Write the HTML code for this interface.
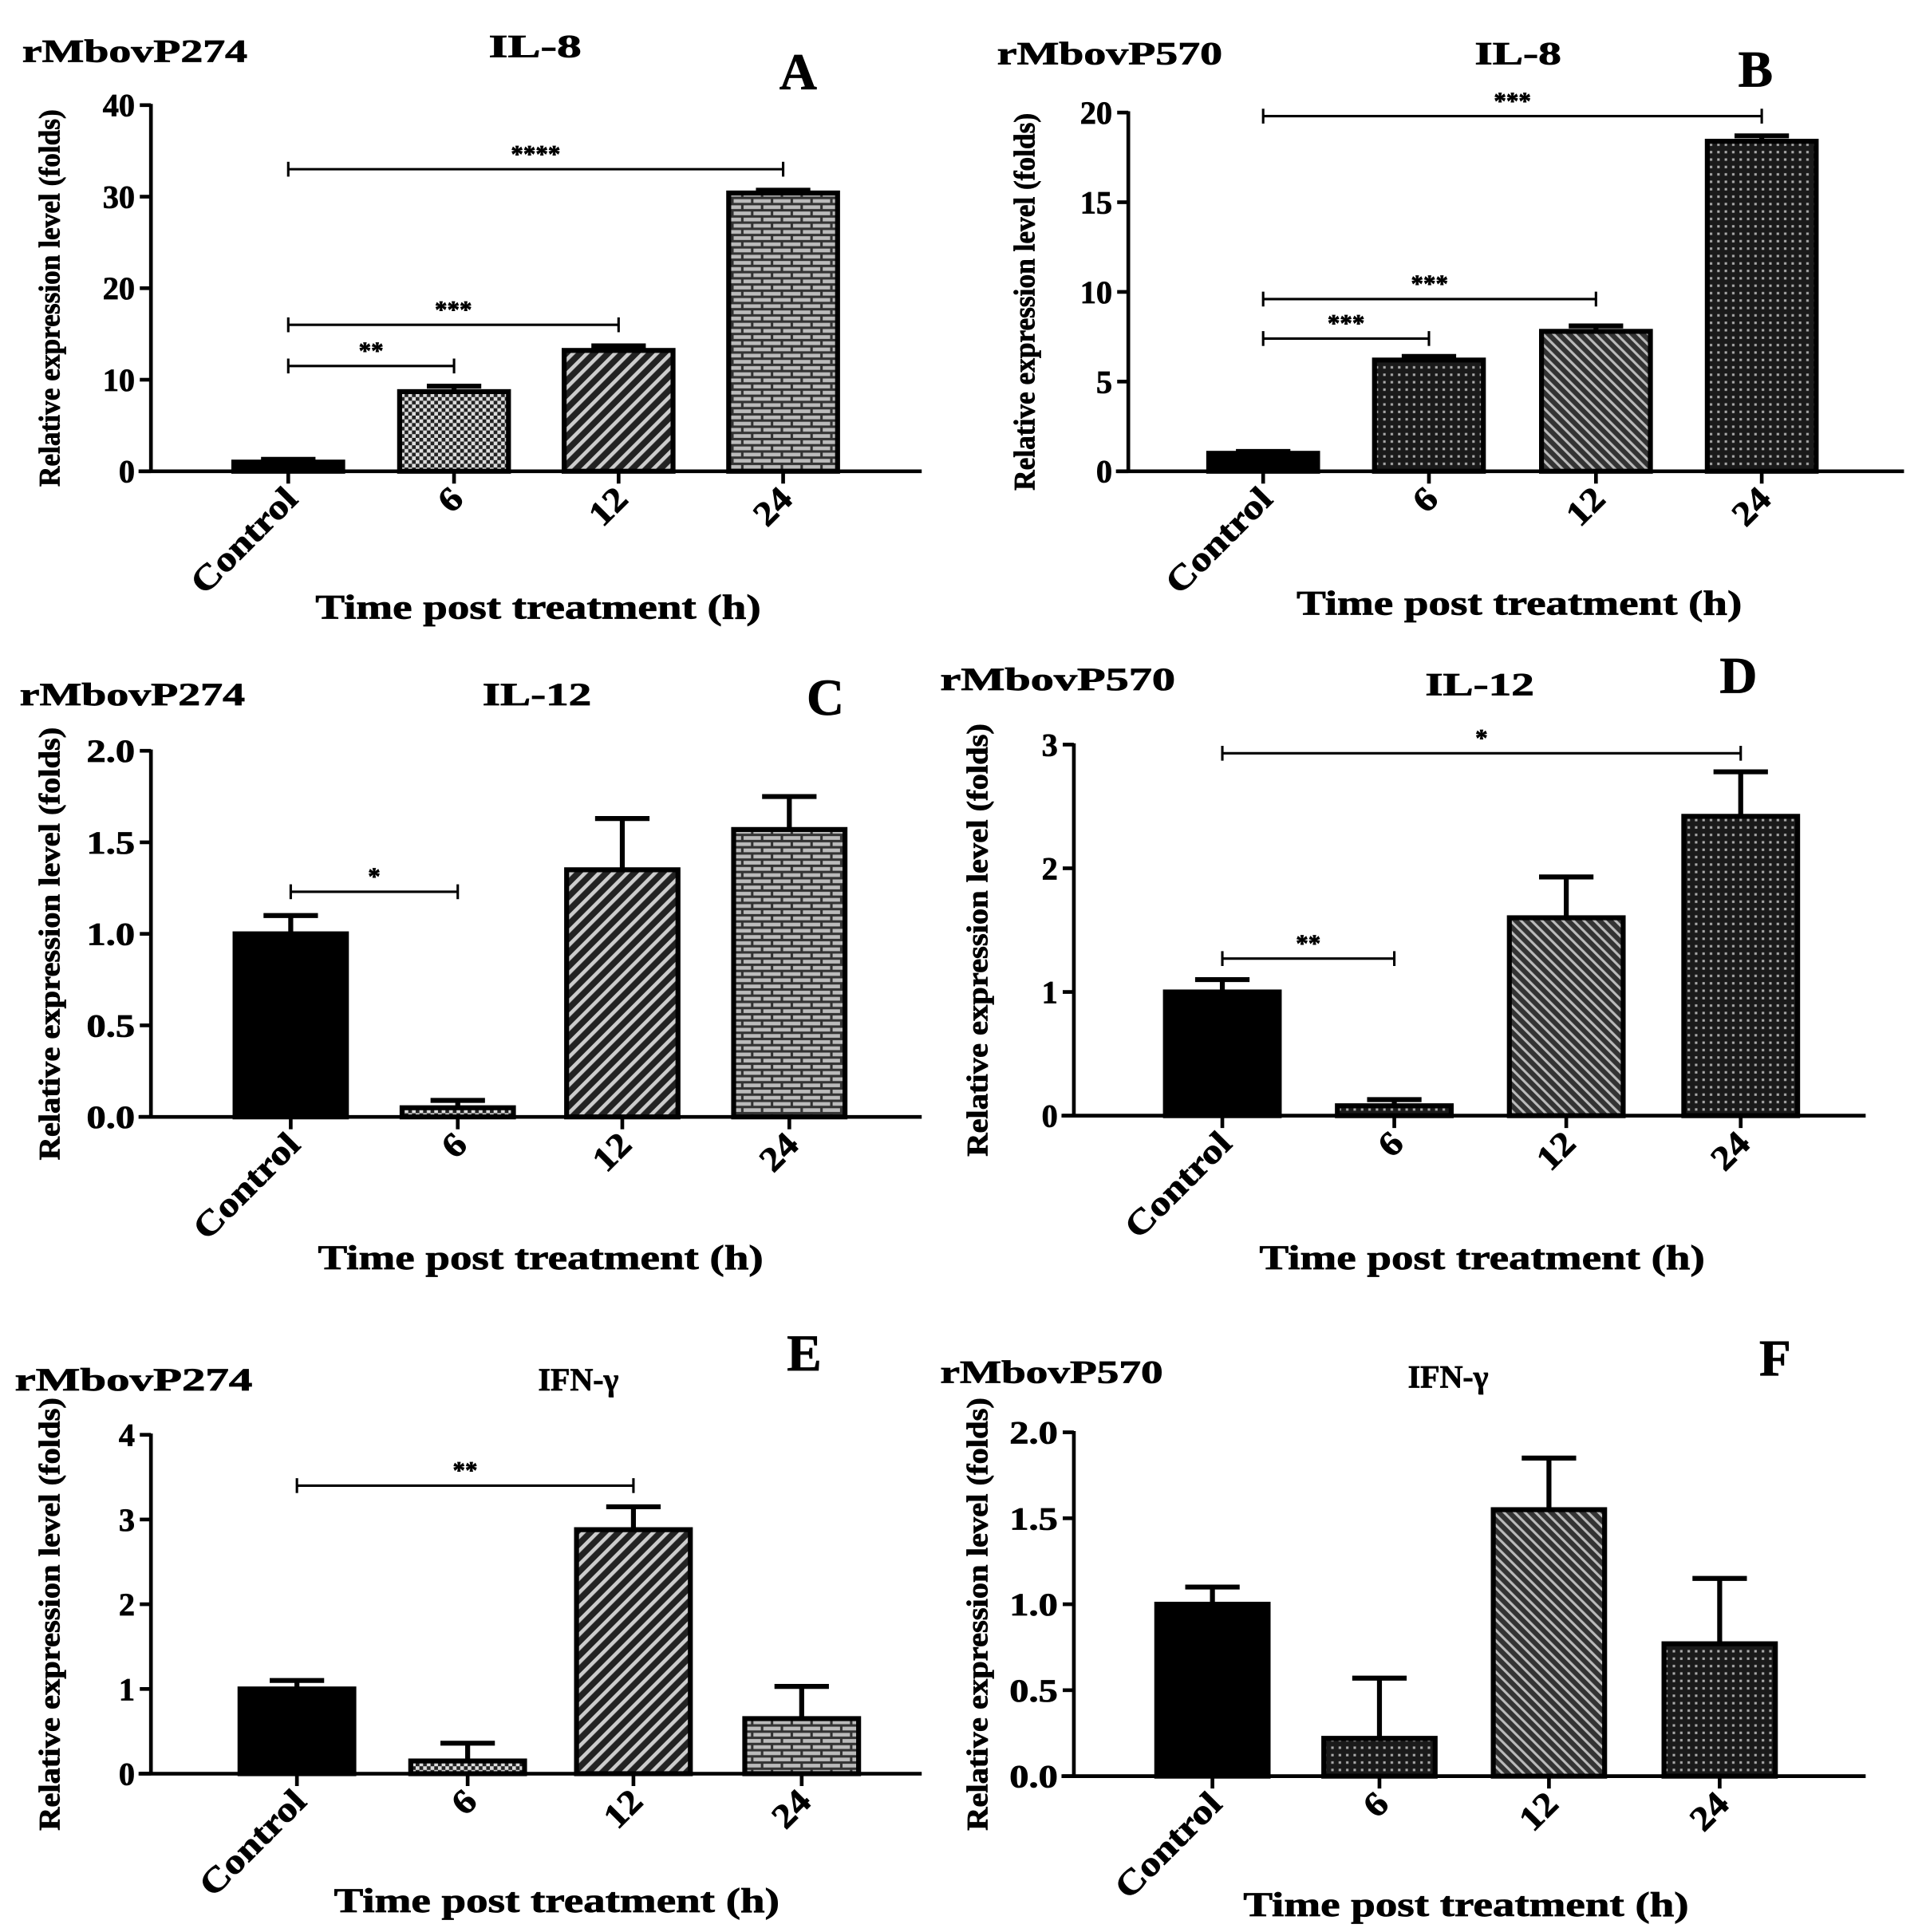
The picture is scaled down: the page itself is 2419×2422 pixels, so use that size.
<!DOCTYPE html>
<html><head><meta charset="utf-8"><style>
html,body{margin:0;padding:0;background:#fff;}
svg{display:block;}
text{font-family:"Liberation Serif",serif;font-weight:bold;fill:#000;stroke:#000;stroke-width:0.5;}
</style></head><body>
<svg id="fig" width="2419" height="2422" viewBox="0 0 1560 1562" preserveAspectRatio="none" xmlns="http://www.w3.org/2000/svg">
<defs>
<pattern id="pChecker" width="6" height="6" patternUnits="userSpaceOnUse"><rect width="6" height="6" fill="#222"/><rect width="3" height="3" fill="#ddd"/><rect x="3" y="3" width="3" height="3" fill="#ddd"/></pattern>
<pattern id="pDiag" width="8" height="8" patternUnits="userSpaceOnUse" patternTransform="rotate(45)"><rect width="8" height="8" fill="#222"/><rect width="3" height="8" fill="#ccc"/></pattern>
<pattern id="pDiag2" width="6" height="6" patternUnits="userSpaceOnUse" patternTransform="rotate(-45)"><rect width="6" height="6" fill="#333"/><rect width="2" height="6" fill="#bbb"/></pattern>
<pattern id="pBrick" width="16" height="10" patternUnits="userSpaceOnUse"><rect width="16" height="10" fill="#333"/><rect x="1" y="1" width="14" height="3" fill="#bbb"/><rect x="0" y="6" width="7" height="3" fill="#bbb"/><rect x="9" y="6" width="7" height="3" fill="#bbb"/></pattern>
<pattern id="pDots" width="6" height="6" patternUnits="userSpaceOnUse"><rect width="6" height="6" fill="#1a1a1a"/><rect x="2" y="2" width="2" height="2" fill="#aaa"/></pattern>
</defs>
<g id="root"></g>
</svg>
<script>
// ---- data ----
const categories = ["Control","6","12","24"];
const valuesA = [1.0, 8.7, 13.2, 30.4];
const errorsA = [1.3, 9.3, 13.7, 30.7];
const valuesB = [1.0, 6.2, 7.8, 18.4];
const errorsB = [1.1, 6.4, 8.1, 18.7];
const valuesC = [1.0, 0.05, 1.35, 1.57];
const errorsC = [1.1, 0.09, 1.63, 1.75];
const valuesD = [1.0, 0.08, 1.6, 2.42];
const errorsD = [1.1, 0.13, 1.93, 2.78];
const valuesE = [1.0, 0.15, 2.88, 0.65];
const errorsE = [1.1, 0.36, 3.15, 1.03];
const valuesF = [1.0, 0.22, 1.55, 0.77];
const errorsF = [1.1, 0.57, 1.85, 1.15];
const ticksA = [0,10,20,30,40];
const ticksB = [0,5,10,15,20];
const ticksC = ["0.0","0.5","1.0","1.5","2.0"];
const ticksD = [0,1,2,3];
const ticksE = [0,1,2,3,4];
const ticksF = ["0.0","0.5","1.0","1.5","2.0"];
// significance: [fromIndex, toIndex, level, label]
const sigA = [[0,1,11.5,"**"],[0,2,16,"***"],[0,3,33,"****"]];
const sigB = [[0,1,7.4,"***"],[0,2,9.6,"***"],[0,3,19.8,"***"]];
const sigC = [[0,1,1.23,"*"]];
const sigD = [[0,1,1.27,"**"],[0,3,2.93,"*"]];
const sigE = [[0,2,3.4,"**"]];
const sigF = [];

// ---- layout ----
const panels = [
 {id:"a",letter:"A",prot:"rMbovP274",cyt:"IL-8",vals:valuesA,errs:errorsA,ticks:ticksA,sig:sigA,ax:122,y0:381,yTop:85,max:40,right:745,xs:[233,367,500,633],bw:88,fills:["#000","url(#pChecker)","url(#pDiag)","url(#pBrick)"],protXY:[18,50],protW:182,cytXY:[395,46],cytW:75,letXY:[630,72],ytX:40,ytW:305,titleX:435,titleY:500},
 {id:"b",letter:"B",prot:"rMbovP570",cyt:"IL-8",vals:valuesB,errs:errorsB,ticks:ticksB,sig:sigB,ax:912,y0:381,yTop:91,max:20,right:1539,xs:[1021,1155,1290,1424],bw:88,fills:["#000","url(#pDots)","url(#pDiag2)","url(#pDots)"],protXY:[806,52],protW:182,cytXY:[1192,52],cytW:70,letXY:[1405,70],ytX:828,ytW:305,titleX:1228,titleY:497},
 {id:"c",letter:"C",prot:"rMbovP274",cyt:"IL-12",vals:valuesC,errs:errorsC,ticks:ticksC,sig:sigC,ax:122,y0:903,yTop:607,max:2,right:745,xs:[235,370,503,638],bw:90,fills:["#000","url(#pChecker)","url(#pDiag)","url(#pBrick)"],protXY:[16,570],protW:182,cytXY:[390,570],cytW:88,letXY:[652,578],ytX:40,ytW:350,titleX:437,titleY:1026},
 {id:"d",letter:"D",prot:"rMbovP570",cyt:"IL-12",vals:valuesD,errs:errorsD,ticks:ticksD,sig:sigD,ax:868,y0:902,yTop:602,max:3,right:1508,xs:[988,1127,1266,1407],bw:92,fills:["#000","url(#pDots)","url(#pDiag2)","url(#pDots)"],protXY:[760,558],protW:190,cytXY:[1152,562],cytW:88,letXY:[1390,560],ytX:790,ytW:350,titleX:1198,titleY:1026},
 {id:"e",letter:"E",prot:"rMbovP274",cyt:"IFN-\u03b3",vals:valuesE,errs:errorsE,ticks:ticksE,sig:sigE,ax:122,y0:1434,yTop:1160,max:4,right:745,xs:[240,378,512,648],bw:92,fills:["#000","url(#pChecker)","url(#pDiag)","url(#pBrick)"],protXY:[12,1124],protW:192,cytXY:[435,1124],cytW:65,letXY:[636,1108],ytX:40,ytW:350,titleX:450,titleY:1546},
 {id:"f",letter:"F",prot:"rMbovP570",cyt:"IFN-\u03b3",vals:valuesF,errs:errorsF,ticks:ticksF,sig:sigF,ax:868,y0:1436,yTop:1158,max:2,right:1508,xs:[980,1115,1252,1390],bw:90,fills:["#000","url(#pDots)","url(#pDiag2)","url(#pDots)"],protXY:[760,1118],protW:180,cytXY:[1138,1122],cytW:65,letXY:[1422,1112],ytX:790,ytW:350,titleX:1185,titleY:1549}
];
const NS="http://www.w3.org/2000/svg";
const root=document.getElementById("root");
function mk(tag,attrs,parent,txt){const e=document.createElementNS(NS,tag);for(const k in attrs)e.setAttribute(k,attrs[k]);if(txt!==undefined)e.textContent=txt;(parent||root).appendChild(e);return e;}

panels.forEach(p=>{
  const g=mk("g",{});
  
  
  const yS=v=>p.y0-(v/p.max)*(p.y0-p.yTop);
  const n=p.ticks.length;
  const ya=mk("line",{x1:p.ax,y1:p.yTop-1,x2:p.ax,y2:p.y0,stroke:"#000","stroke-width":3},g);
  
  
  p.ticks.forEach((t,i)=>{
    const v=p.max*i/(n-1);
    const y=yS(v);
    mk("line",{x1:p.ax-9,y1:y,x2:p.ax,y2:y,stroke:"#000","stroke-width":3},g);
    const s=String(t);
    const tl=mk("text",{x:p.ax-13,y:y+9,"text-anchor":"end","font-size":26,textLength:s.length*13,lengthAdjust:"spacingAndGlyphs"},g,s);
    
    
  });
  p.vals.forEach((v,i)=>{
    const x=p.xs[i];
    const top=yS(v);
    const eb=yS(p.errs[i]);
    const el=mk("line",{x1:x,y1:eb,x2:x,y2:top,stroke:"#000","stroke-width":4},g);
    
    
    mk("line",{x1:x-22,y1:eb,x2:x+22,y2:eb,stroke:"#000","stroke-width":4},g);
    const r=mk("rect",{x:x-p.bw/2,y:top,width:p.bw,height:Math.max(p.y0-top,1),fill:p.fills[i],stroke:"#000","stroke-width":4},g);
    
    
    mk("line",{x1:x,y1:p.y0,x2:x,y2:p.y0+10,stroke:"#000","stroke-width":3},g);
    const lx=x+9, ly=p.y0+24;
    const lab=categories[i];
    const t=mk("text",{x:lx,y:ly,"text-anchor":"end","font-size":28,textLength:lab.length*15.5,lengthAdjust:"spacingAndGlyphs",transform:`rotate(-45 ${lx} ${ly})`},g,lab);
    
    
  });
  const xa=mk("line",{x1:p.ax-10,y1:p.y0,x2:p.right,y2:p.y0,stroke:"#000","stroke-width":3},g);
  
  
  p.sig.forEach(s=>{
    const x1=p.xs[s[0]],x2=p.xs[s[1]],y=yS(s[2]);
    const sl=mk("line",{x1:x1,y1:y,x2:x2,y2:y,stroke:"#000","stroke-width":2},g);
    
    
    mk("line",{x1:x1,y1:y-6,x2:x1,y2:y+6,stroke:"#000","stroke-width":2},g);
    mk("line",{x1:x2,y1:y-6,x2:x2,y2:y+6,stroke:"#000","stroke-width":2},g);
    const st=mk("text",{x:(x1+x2)/2,y:y-6,"text-anchor":"middle","font-size":20},g,s[3]);
    
    
  });
  const pt=mk("text",{x:p.protXY[0],y:p.protXY[1],"font-size":26,textLength:p.protW,lengthAdjust:"spacingAndGlyphs"},g,p.prot);
  
  
  const ct=mk("text",{x:p.cytXY[0],y:p.cytXY[1],"font-size":26,textLength:p.cytW,lengthAdjust:"spacingAndGlyphs"},g,p.cyt);
  
  
  const lt=mk("text",{x:p.letXY[0],y:p.letXY[1],"font-size":42},g,p.letter);
  
  
  const yc=(p.yTop+p.y0)/2+8, yx=p.ytX+8;
  const yt=mk("text",{x:yx,y:yc,"text-anchor":"middle","font-size":24,textLength:p.ytW,lengthAdjust:"spacingAndGlyphs",transform:`rotate(-90 ${yx} ${yc})`},g,"Relative expression level (folds)");
  
  
  const xt=mk("text",{x:p.titleX,y:p.titleY,"text-anchor":"middle","font-size":28,textLength:360,lengthAdjust:"spacingAndGlyphs"},g,"Time post treatment (h)");
  
  
});
</script>
</body></html>
